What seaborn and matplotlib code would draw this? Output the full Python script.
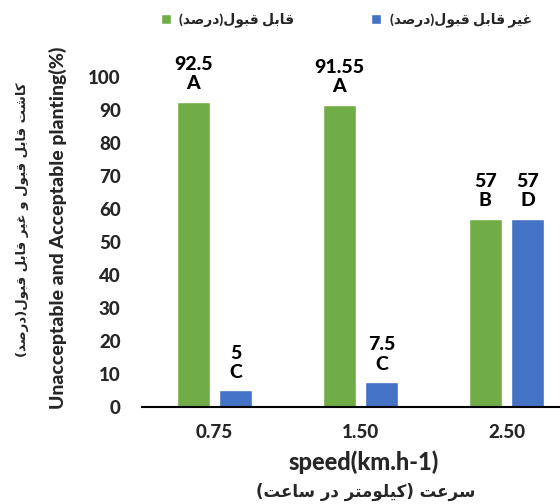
import matplotlib
matplotlib.use("Agg")
import matplotlib.pyplot as plt
import numpy as np
import pandas as pd
import seaborn as sns

# ---- data -------------------------------------------------------------
speeds = ["0.75", "1.50", "2.50"]
acceptable = [92.5, 91.55, 57]
unacceptable = [5, 7.5, 57]
letters_acceptable = ["A", "A", "B"]
letters_unacceptable = ["C", "C", "D"]

label_acceptable = "قابل قبول(درصد)"
label_unacceptable = "غیر قابل قبول(درصد)"
ylabel_fa = "کاشت قابل قبول و غیر قابل قبول(درصد)"
ylabel_en = "Unacceptable and Acceptable planting(%)"
xlabel_en = "speed(km.h-1)"
xlabel_fa = "سرعت (کیلومتر در ساعت)"
yticks = [0, 10, 20, 30, 40, 50, 60, 70, 80, 90, 100]

GREEN = "#70AD47"
BLUE = "#4472C4"
HEAVY = 900

# ---- minimal Persian shaping (matplotlib has no complex text layout) ---
# isolated, final, initial, medial presentation forms
_FORMS = {
    "ا": ("\uFE8D", "\uFE8E", None, None),
    "ب": ("\uFE8F", "\uFE90", "\uFE91", "\uFE92"),
    "ت": ("\uFE95", "\uFE96", "\uFE97", "\uFE98"),
    "د": ("\uFEA9", "\uFEAA", None, None),
    "ر": ("\uFEAD", "\uFEAE", None, None),
    "س": ("\uFEB1", "\uFEB2", "\uFEB3", "\uFEB4"),
    "ش": ("\uFEB5", "\uFEB6", "\uFEB7", "\uFEB8"),
    "ص": ("\uFEB9", "\uFEBA", "\uFEBB", "\uFEBC"),
    "ع": ("\uFEC9", "\uFECA", "\uFECB", "\uFECC"),
    "غ": ("\uFECD", "\uFECE", "\uFECF", "\uFED0"),
    "ق": ("\uFED5", "\uFED6", "\uFED7", "\uFED8"),
    "ک": ("\uFB8E", "\uFB8F", "\uFB90", "\uFB91"),
    "ل": ("\uFEDD", "\uFEDE", "\uFEDF", "\uFEE0"),
    "م": ("\uFEE1", "\uFEE2", "\uFEE3", "\uFEE4"),
    "و": ("\uFEED", "\uFEEE", None, None),
    "ی": ("\uFBFC", "\uFBFD", "\uFBFE", "\uFBFF"),
}
_MIRROR = {"(": ")", ")": "("}


def shape_fa(text):
    out = []
    n = len(text)
    for i, ch in enumerate(text):
        forms = _FORMS.get(ch)
        if forms is None:
            out.append(_MIRROR.get(ch, ch))
            continue
        prev = text[i - 1] if i > 0 else ""
        nxt = text[i + 1] if i + 1 < n else ""
        join_prev = prev in _FORMS and _FORMS[prev][2] is not None
        join_next = forms[2] is not None and nxt in _FORMS
        if join_prev and join_next:
            g = forms[3]
        elif join_prev:
            g = forms[1]
        elif join_next:
            g = forms[2]
        else:
            g = forms[0]
        out.append(g)
    return "".join(reversed(out))


# ---- figure -----------------------------------------------------------
sns.set_theme(style="white")
plt.rcParams["font.family"] = ["Lato", "DejaVu Sans"]
plt.rcParams["font.weight"] = HEAVY

fig = plt.figure(figsize=(5.6, 5.04), dpi=100)
ax = fig.add_axes([0.2527, 0.1925, 0.782, 0.6548])

df = pd.DataFrame({
    "speed": speeds * 2,
    "percent": acceptable + unacceptable,
    "series": [shape_fa(label_acceptable)] * 3 + [shape_fa(label_unacceptable)] * 3,
})

sns.barplot(data=df, x="speed", y="percent", hue="series",
            palette=[GREEN, BLUE], saturation=1, width=0.58, gap=0.22,
            ax=ax)

# value + significance letter above each bar
for container, letters in zip(ax.containers,
                              [letters_acceptable, letters_unacceptable]):
    for bar, letter in zip(container, letters):
        v = bar.get_height()
        ax.annotate(f"{v:g}\n{letter}",
                    (bar.get_x() + bar.get_width() / 2, v),
                    xytext=(0, 7), textcoords="offset points",
                    ha="center", va="bottom", fontsize=14,
                    fontweight=HEAVY, linespacing=1.15, color="black",
                    annotation_clip=False)

ax.set_ylim(0, 100)
ax.set_xlim(-0.5, 2.5)
ax.set_yticks(yticks)
ax.tick_params(axis="y", length=0, pad=15, labelsize=13.5)
ax.tick_params(axis="x", length=0, pad=12, labelsize=13.5)
for lab in ax.get_xticklabels() + ax.get_yticklabels():
    lab.set_fontweight(HEAVY)
ax.set_xlabel("")
ax.set_ylabel("")
for side in ("left", "top", "right"):
    ax.spines[side].set_visible(False)
ax.spines["bottom"].set_color("black")
ax.spines["bottom"].set_linewidth(1.5)

sns.move_legend(ax, "center", bbox_to_anchor=(0.618, 1 - 20 / 504),
                bbox_transform=fig.transFigure, ncol=2, frameon=False,
                title=None, fontsize=10, handlelength=0.75,
                handleheight=0.75, handletextpad=0.6, columnspacing=5.5)

# axis titles
fig.text(364 / 560, 1 - 462 / 504, xlabel_en, ha="center", va="center",
         fontsize=17, fontweight=HEAVY)
fig.text(366 / 560, 1 - 492 / 504, shape_fa(xlabel_fa), ha="center",
         va="center", fontsize=12, fontweight="bold",
         family=["DejaVu Sans"])
fig.text(58 / 560, 1 - 228 / 504, ylabel_en, ha="center", va="center",
         rotation=90, fontsize=14, fontweight=HEAVY)
fig.text(23 / 560, 1 - 220 / 504, shape_fa(ylabel_fa), ha="center",
         va="center", rotation=90, fontsize=9.5, fontweight="bold",
         family=["DejaVu Sans"])

fig.savefig("out.png", dpi=100)
